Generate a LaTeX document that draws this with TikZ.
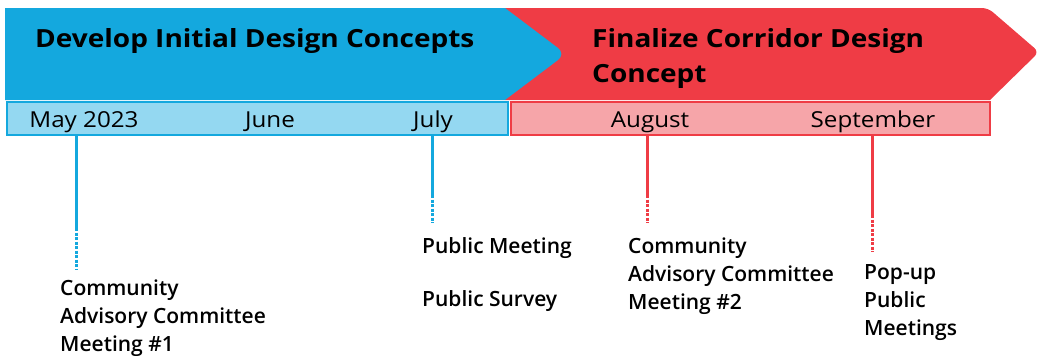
\documentclass[tikz,border=0pt]{standalone}
\usepackage{fontspec}
\setmainfont{Open Sans}
\newfontfamily\eventfont{Open Sans Semibold}
\usepackage{xcolor}
\usetikzlibrary{positioning, calc}
\definecolor{PhaseBlue}{RGB}{20, 168, 222}
\definecolor{PhaseBlueLight}{RGB}{148, 216, 241}
\definecolor{PhaseRed}{RGB}{239, 60, 69}
\definecolor{PhaseRedLight}{RGB}{246, 165, 169}

\begin{document}
\begin{tikzpicture}[
    x=1pt, y=-1pt,
    % Styles
    title/.style={anchor=north west, inner sep=0pt, align=left, font=\fontsize{25}{35}\selectfont\bfseries\addfontfeature{FakeStretch=1.12}, text=black},
    month/.style={anchor=base, inner sep=0pt, font=\fontsize{22}{26}\selectfont\addfontfeature{FakeStretch=1.1}, text=black},
    bar/.style={rectangle, line width=2pt, anchor=north west, inner sep=0pt},
    tick/.style={line width=3pt},
    tickend/.style={line width=3pt, dash pattern=on 3pt off 1.5pt},
    event/.style={anchor=north west, inner sep=0pt, align=left, font=\fontsize{21}{28}\selectfont\eventfont, text=black}
]

\useasboundingbox (0,0) rectangle (1039,356);

% ==========================================================================================
% PHASE ARROWS
% ==========================================================================================

% Finalize - Red
\fill[PhaseRed, rounded corners=6pt] (505,8) -- (988,8) -- (1039,52) [sharp corners] -- (990,100) -- (505,100) -- cycle;

% Develop - Blue
\fill[PhaseBlue] (5,8) -- (505,8) [rounded corners=10pt] -- (566,54) [sharp corners] -- (505,100) -- (5,100) -- cycle;

% Titles
\node[title] (develop) at (35,28) {Develop Initial Design Concepts};
\node[title] (finalize) at (592,28) {Finalize Corridor Design\\Concept};

% ==========================================================================================
% MONTH BARS
% ==========================================================================================

\node[bar, draw=PhaseBlue, fill=PhaseBlueLight, minimum width=501pt, minimum height=33pt] (blue_bar) at (6,101) {};
\node[bar, draw=PhaseRed, fill=PhaseRedLight, minimum width=479pt, minimum height=33pt] (red_bar) at (510,101) {};

\node[month] (may) at (84,127) {May 2023};
\node[month] (june) at (270,127) {June};
\node[month] (july) at (433,127) {July};
\node[month] (august) at (650,127) {August};
\node[month] (september) at (873,127) {September};

% ==========================================================================================
% EVENTS
% ==========================================================================================

\node[event] (cac1) at (60,280) {Community\\Advisory Committee\\Meeting \#1};
\node[event] (public) at (422,237) {Public Meeting\\[25pt]Public Survey};
\node[event] (cac2) at (628,238) {Community\\Advisory Committee\\Meeting \#2};
\node[event] (popup) at (864,264) {Pop-up\\Public\\Meetings};

% Tick coordinates
\coordinate (t1) at (76,228);
\coordinate (e1) at (76,270);
\coordinate (t2) at (432,195);
\coordinate (e2) at (432,223);
\coordinate (t3) at (647,195);
\coordinate (e3) at (647,223);
\coordinate (t4) at (872,215);
\coordinate (e4) at (872,252);

% Ticks - solid then dashed
\draw[tick, PhaseBlue] (blue_bar.south -| t1) -- (t1);
\draw[tickend, PhaseBlue] (t1) -- (e1);
\draw[tick, PhaseBlue] (blue_bar.south -| t2) -- (t2);
\draw[tickend, PhaseBlue] (t2) -- (e2);
\draw[tick, PhaseRed] (red_bar.south -| t3) -- (t3);
\draw[tickend, PhaseRed] (t3) -- (e3);
\draw[tick, PhaseRed] (red_bar.south -| t4) -- (t4);
\draw[tickend, PhaseRed] (t4) -- (e4);

\end{tikzpicture}
\end{document}
